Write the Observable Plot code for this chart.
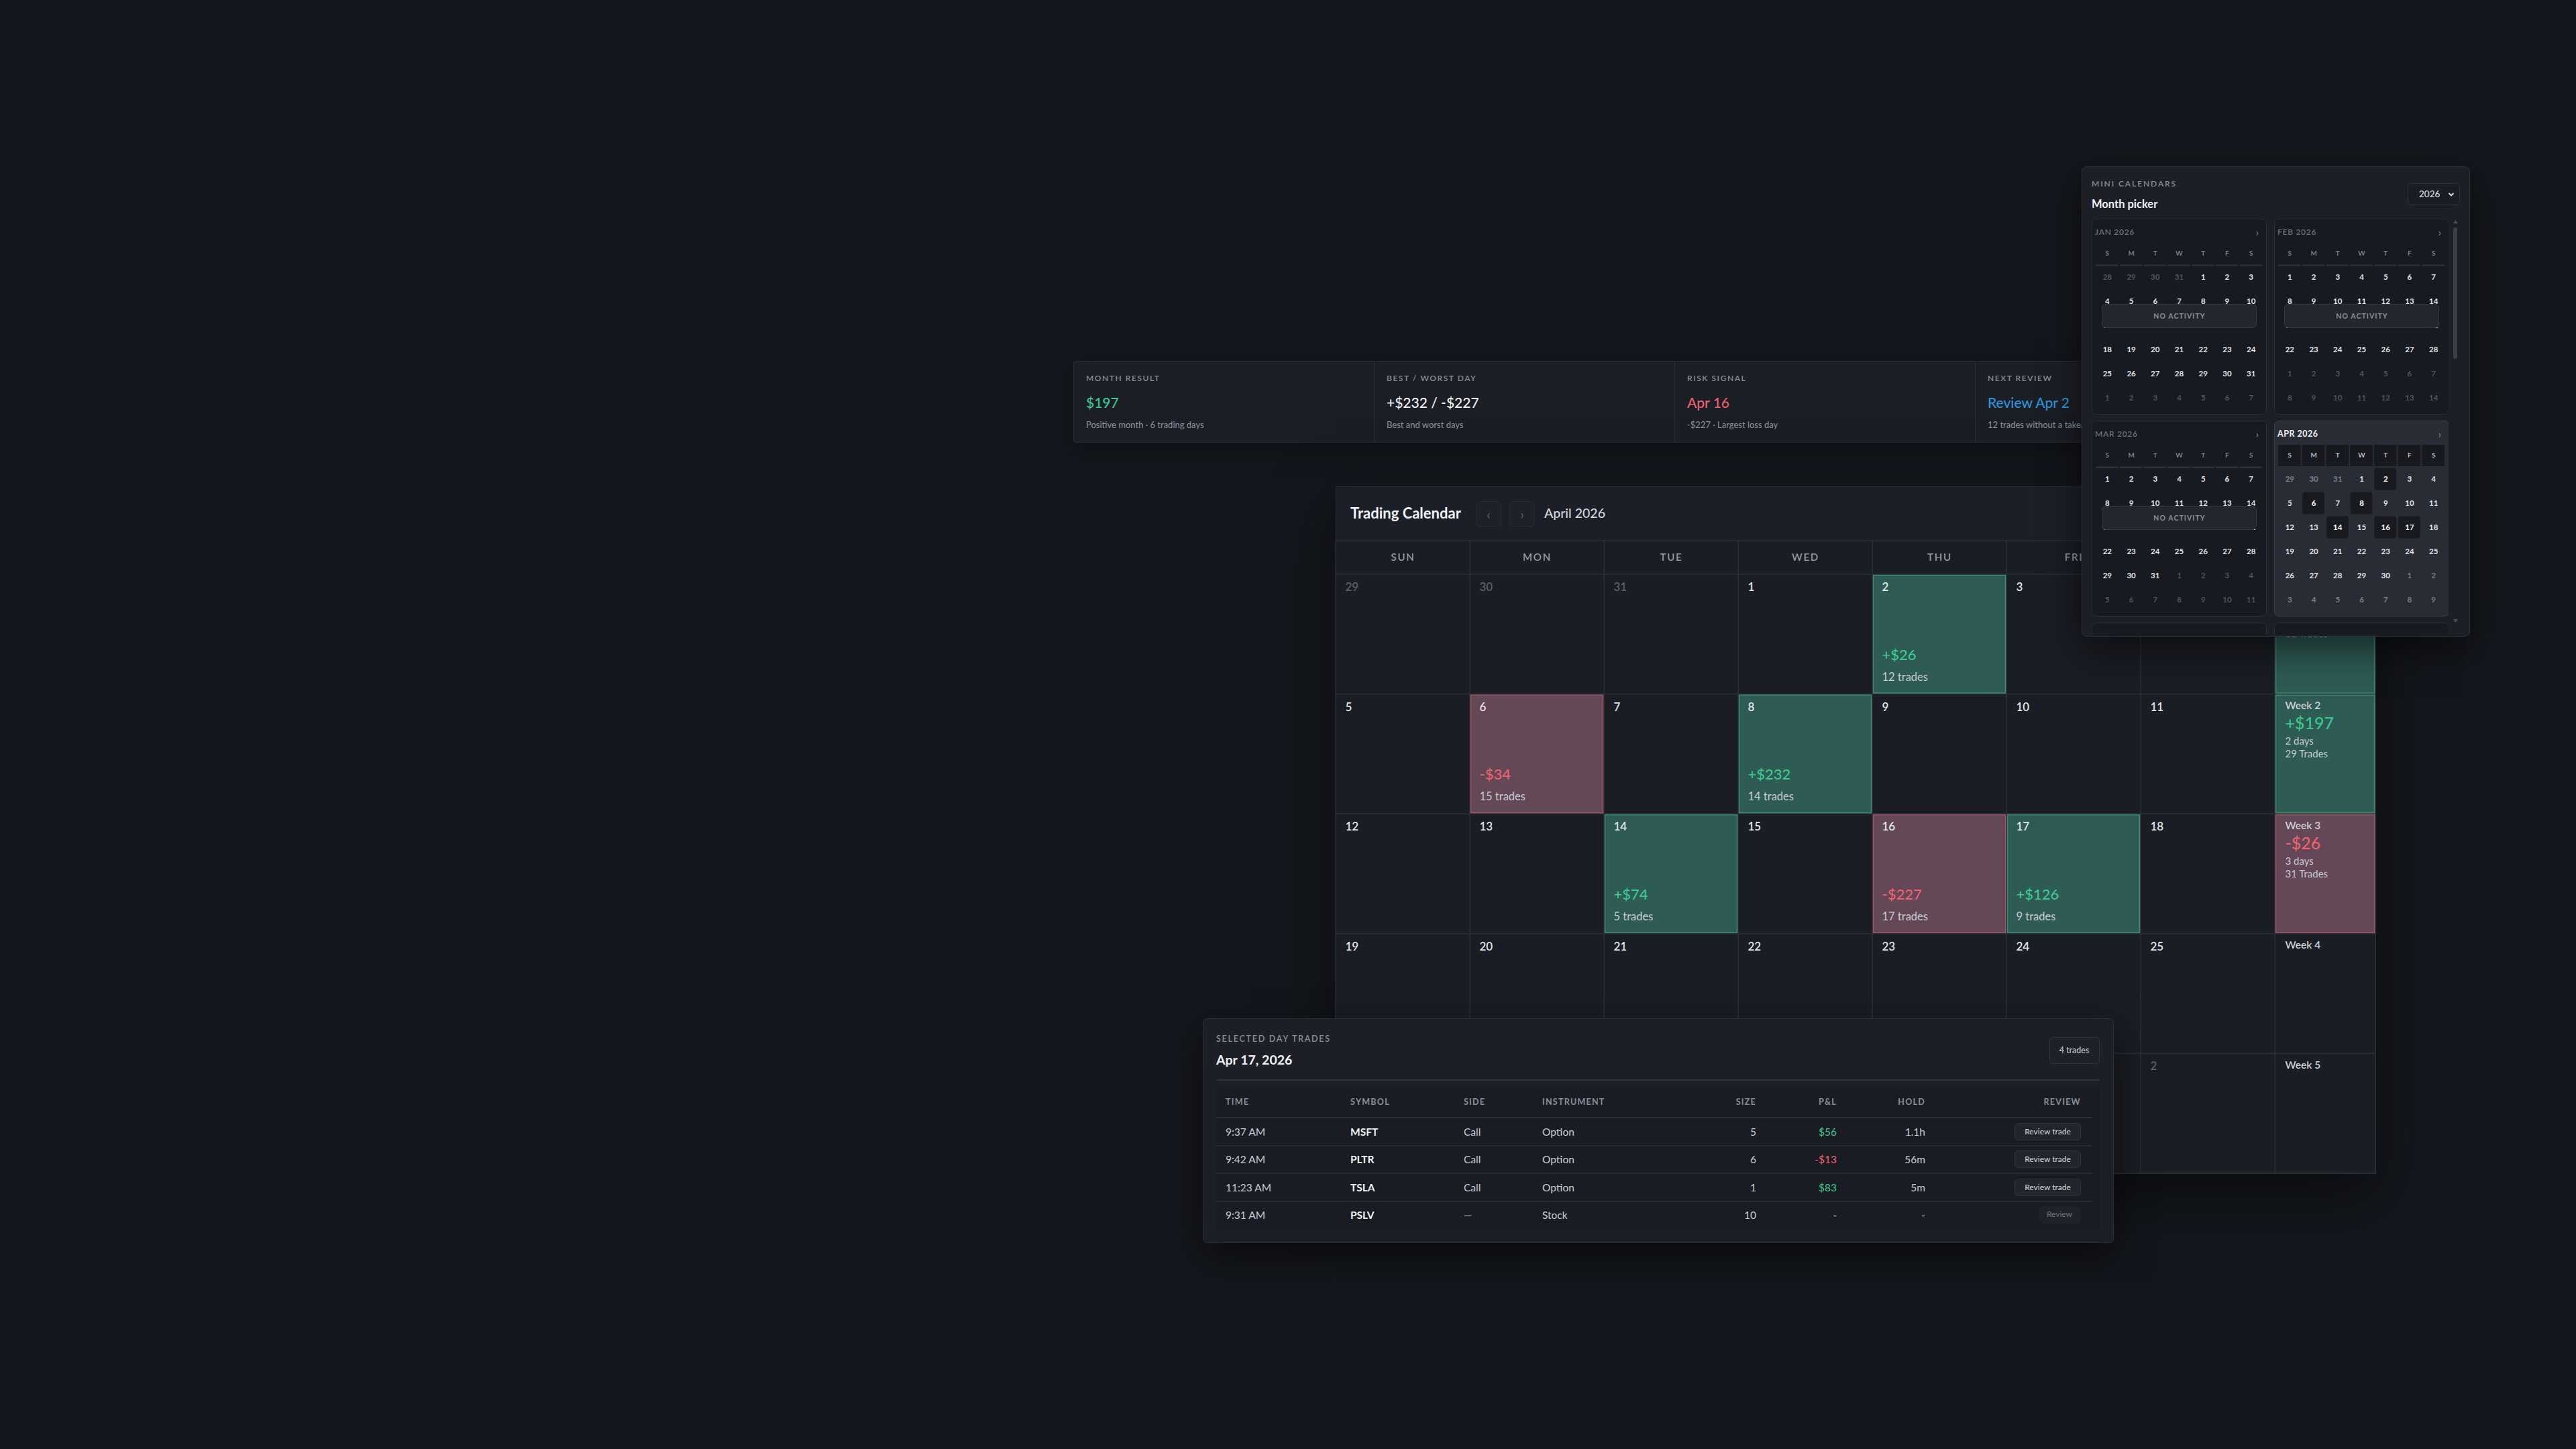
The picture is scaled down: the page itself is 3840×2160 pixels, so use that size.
<!DOCTYPE html>
<html>
<head>
<meta charset="utf-8">
<script src="https://cdn.jsdelivr.net/npm/d3@7"></script>
<script src="https://cdn.jsdelivr.net/npm/@observablehq/plot@0.6"></script>
<style>
html,body{margin:0;padding:0;background:#14171d;}
body{width:3840px;height:2160px;position:relative;overflow:hidden;font-family:Lato,"Noto Sans",sans-serif;color:#e6e8ec;}
svg{display:block;}
</style>
</head>
<body>
<script>
// ---------------- DATA ----------------
const calYear = 2026, calMonth = 3;
const calTitle = "Trading Calendar";
const monthTitle = "April 2026";
const weekdayNames = ["SUN","MON","TUE","WED","THU","FRI","SAT"];
const weekHeader = "WEEK";
const tradeDays = [2, 6, 8, 14, 16, 17];
const tradePnl = [26, -34, 232, 74, -227, 126];
const tradeCounts = [12, 15, 14, 5, 17, 9];
const weekLabels = ["Week 1","Week 2","Week 3","Week 4","Week 5"];
const weekPnl = [26, 197, -26, null, null];
const weekDayCounts = [1, 2, 3, null, null];
const weekTradeCounts = [12, 29, 31, null, null];

const statLabels = ["MONTH RESULT","BEST / WORST DAY","RISK SIGNAL","NEXT REVIEW"];
const statValues = ["$197","+$232 / -$227","Apr 16","Review Apr 2"];
const statSubs = ["Positive month · 6 trading days","Best and worst days","-$227 · Largest loss day","12 trades without a takeaway"];
const statTones = ["pos","neutral","neg","link"];

const miniKicker = "MINI CALENDARS";
const miniTitle = "Month picker";
const yearOption = "2026";
const miniMonthLabels = ["JAN 2026","FEB 2026","MAR 2026","APR 2026"];
const miniMonthIndex = [0, 1, 2, 3];
const miniHiddenCards = 2; // further months below the scroll fold (only their top edge shows)
const miniLetters = ["S","M","T","W","T","F","S"];
const noActivityLabel = "NO ACTIVITY";

const selKicker = "SELECTED DAY TRADES";
const selDate = "Apr 17, 2026";
const selBadge = "4 trades";
const tableHeaders = ["TIME","SYMBOL","SIDE","INSTRUMENT","SIZE","P&L","HOLD","REVIEW"];
const tradeTimes = ["9:37 AM","9:42 AM","11:23 AM","9:31 AM"];
const tradeSymbols = ["MSFT","PLTR","TSLA","PSLV"];
const tradeSides = ["Call","Call","Call","—"];
const tradeInstruments = ["Option","Option","Option","Stock"];
const tradeSizes = [5, 6, 1, 10];
const tradePnls = [56, -13, 83, null];
const tradeHolds = ["1.1h","56m","5m","-"];
const reviewLabels = ["Review trade","Review trade","Review trade","Review"];

// ---------------- STYLE ----------------
const C = {
  pos: "#3cc98f", neg: "#f0606f", link: "#2b95dc", neutral: "#f1f3f6",
  cell: "#1a1d24", grid: "#2b2f37",
  greenFill: "#2f5b55", greenStroke: "#3d8c70",
  redFill: "#644857", redStroke: "#9b5566",
  dim: "#5c616b", text: "#e4e7eb", sub: "#c6cad1", muted: "#8a909b"
};
const FONT = "Lato, 'Noto Sans', sans-serif";

function box(parent, css, text) {
  const d = document.createElement("div");
  d.style.cssText = "position:absolute;box-sizing:border-box;" + css;
  if (text != null) d.textContent = text;
  parent.appendChild(d);
  return d;
}
function txt(parent, x, cy, text, css, align) {
  let pos;
  if (align === "right") pos = `left:${x - 400}px;width:400px;text-align:right;`;
  else if (align === "center") pos = `left:${x - 200}px;width:400px;text-align:center;`;
  else pos = `left:${x}px;`;
  return box(parent, pos + `top:${cy - 20}px;height:40px;line-height:40px;white-space:nowrap;` + css, text);
}
const money = v => (v > 0 ? "+" : "-") + "$" + Math.abs(v);

const root = document.body;

// ---------------- STATS STRIP ----------------
const strip = box(root, "left:1600px;top:538px;width:1792px;height:122px;background:#1b1e25;border:1px solid #2a2e36;border-radius:4px;z-index:1;box-shadow:0 10px 40px rgba(0,0,0,0.35);");
statLabels.forEach((lab, i) => {
  const col = box(strip, `left:${i * 448}px;top:0;width:448px;height:120px;${i < 3 ? "border-right:1px solid #2a2e36;" : ""}`);
  txt(col, 18, 25, lab, "font-size:12px;letter-spacing:0.13em;color:#8a909b;font-weight:600;");
  txt(col, 18, 61, statValues[i], `font-size:21px;color:${C[statTones[i]]};font-weight:500;`);
  txt(col, 18, 94, statSubs[i], "font-size:13px;color:#8f95a0;");
});

// ---------------- MAIN CALENDAR ----------------
const cal = box(root, "left:1991px;top:725px;width:1551px;height:1025px;background:#1a1d24;border:1px solid #2a2e36;z-index:1;box-shadow:0 30px 90px rgba(0,0,0,0.5);");
const hdr = box(cal, "left:0;top:0;width:1549px;height:81px;background:#1c1f27;");
txt(hdr, 21, 39, calTitle, "font-size:22px;font-weight:700;color:#f1f3f6;");
["‹", "›"].forEach((ch, i) => {
  const b = box(hdr, `left:${208 + i * 50}px;top:21px;width:38px;height:38px;border:1px solid #262a32;background:#1e2129;border-radius:6px;`);
  txt(b, 18, 18, ch, "font-size:20px;color:#5d636e;", "center");
});
txt(hdr, 310, 39, monthTitle, "font-size:19.5px;color:#d5d9df;font-weight:500;");

const calCells = [];
{
  const off = new Date(calYear, calMonth, 1).getDay();
  for (let i = 0; i < 35; i++) {
    const d = new Date(calYear, calMonth, 1 - off + i);
    const inMonth = d.getMonth() === calMonth;
    const k = inMonth ? tradeDays.indexOf(d.getDate()) : -1;
    calCells.push({col: i % 7, row: Math.floor(i / 7), day: d.getDate(), inMonth,
      pnl: k >= 0 ? tradePnl[k] : null, trades: k >= 0 ? tradeCounts[k] : null});
  }
}
const weekCells = weekLabels.map((w, i) => ({col: 7, row: i, label: w, pnl: weekPnl[i], days: weekDayCounts[i], trades: weekTradeCounts[i]}));
const headCells = weekdayNames.map((n, i) => ({col: i, w: 1, label: n})).concat([{col: 7, w: 0.75, label: weekHeader}]);
const traded = calCells.filter(d => d.pnl != null);
const tradedWeeks = weekCells.filter(d => d.pnl != null);
const fillOf = d => d.pnl > 0 ? C.greenFill : C.redFill;
const strokeOf = d => d.pnl > 0 ? C.greenStroke : C.redStroke;
const toneOf = d => d.pnl > 0 ? C.pos : C.neg;

const calPlot = Plot.plot({
  width: 1550, height: 943, margin: 0,
  x: {type: "linear", domain: [0, 7.75], range: [0, 1550], axis: null},
  y: {type: "linear", domain: [-0.28, 5], range: [0, 943], axis: null},
  color: {type: "identity"},
  style: {background: "transparent", fontFamily: FONT, overflow: "visible"},
  marks: [
    Plot.rect(headCells, {x1: "col", x2: d => d.col + d.w, y1: () => -0.28, y2: () => 0, fill: C.cell, stroke: C.grid, strokeWidth: 1.5}),
    Plot.text(headCells, {x: d => d.col + d.w / 2, y: () => -0.14, text: "label", fill: "#959ba6", fontSize: 15, fontWeight: 600}),
    Plot.rect(calCells, {x1: "col", x2: d => d.col + 1, y1: "row", y2: d => d.row + 1, fill: C.cell, stroke: C.grid, strokeWidth: 1.5}),
    Plot.rect(weekCells, {x1: "col", x2: d => d.col + 0.75, y1: "row", y2: d => d.row + 1, fill: C.cell, stroke: C.grid, strokeWidth: 1.5}),
    Plot.rect(traded, {x1: "col", x2: d => d.col + 1, y1: "row", y2: d => d.row + 1, fill: fillOf, stroke: strokeOf, strokeWidth: 1.5, inset: 1.5}),
    Plot.rect(tradedWeeks, {x1: "col", x2: d => d.col + 0.75, y1: "row", y2: d => d.row + 1, fill: fillOf, stroke: strokeOf, strokeWidth: 1.5, inset: 1.5}),
    Plot.text(calCells, {x: "col", y: "row", dx: 14, dy: 19, text: d => String(d.day), textAnchor: "start",
      fill: d => d.inMonth ? C.text : C.dim, fontSize: 17, fontWeight: 600}),
    Plot.text(traded, {x: "col", y: "row", dx: 14, dy: 120, text: d => money(d.pnl), textAnchor: "start", fill: toneOf, fontSize: 22, fontWeight: 500}),
    Plot.text(traded, {x: "col", y: "row", dx: 14, dy: 153, text: d => d.trades + " trades", textAnchor: "start", fill: C.sub, fontSize: 16.5}),
    Plot.text(weekCells, {x: "col", y: "row", dx: 15, dy: 17, text: "label", textAnchor: "start", fill: "#cfd3d9", fontSize: 15.5, fontWeight: 600}),
    Plot.text(tradedWeeks, {x: "col", y: "row", dx: 15, dy: 44, text: d => money(d.pnl), textAnchor: "start", fill: toneOf, fontSize: 25, fontWeight: 500}),
    Plot.text(tradedWeeks, {x: "col", y: "row", dx: 15, dy: 70, text: d => d.days + (d.days === 1 ? " day" : " days"), textAnchor: "start", fill: C.sub, fontSize: 15}),
    Plot.text(tradedWeeks, {x: "col", y: "row", dx: 15, dy: 89, text: d => d.trades + " Trades", textAnchor: "start", fill: C.sub, fontSize: 15})
  ]
});
d3.select(calPlot).selectAll("text").filter(function () {
  return weekdayNames.includes(this.textContent) || this.textContent === weekHeader;
}).attr("letter-spacing", "0.12em");
const calHost = box(cal, "left:-1px;top:80px;width:1550px;height:943px;");
calHost.appendChild(calPlot);

// ---------------- SELECTED DAY TRADES ----------------
const sel = box(root, "left:1793px;top:1518px;width:1358px;height:335px;background:#1c1f26;border:1px solid #2b2f38;border-radius:6px;z-index:2;box-shadow:0 20px 60px rgba(0,0,0,0.55);");
txt(sel, 19, 30, selKicker, "font-size:12.5px;letter-spacing:0.14em;color:#8a909b;font-weight:600;");
txt(sel, 19, 61, selDate, "font-size:19.5px;color:#f2f4f7;font-weight:700;");
const badge = box(sel, "left:1261px;top:27px;width:75px;height:40px;border:1px solid #30343d;border-radius:5px;background:#1e2128;");
txt(badge, 36, 19, selBadge, "font-size:12.5px;color:#d0d4da;", "center");
box(sel, "left:19px;top:90px;width:1317px;height:2px;background:#2c3038;");
const tbl = box(sel, "left:19px;top:103px;width:1317px;height:211px;background:#191c22;border-radius:6px;");
const colDefs = [
  {x: 14, align: "left"}, {x: 200, align: "left"}, {x: 369, align: "left"}, {x: 486, align: "left"},
  {x: 805, align: "right"}, {x: 925, align: "right"}, {x: 1057, align: "right"}, {x: 1289, align: "right"}
];
tableHeaders.forEach((h, i) => txt(tbl, colDefs[i].x, 21, h, "font-size:12.5px;letter-spacing:0.1em;color:#8a909b;font-weight:700;", colDefs[i].align));
box(tbl, "left:0;top:43px;width:1306px;height:2px;background:#2a2e36;");
const rowY = [65, 106, 148, 189];
tradeTimes.forEach((t, r) => {
  const cy = rowY[r];
  if (r < tradeTimes.length - 1) box(tbl, `left:0;top:${cy + 20}px;width:1306px;height:2px;background:#262a31;`);
  const base = "font-size:15.5px;color:#c9cdd3;";
  txt(tbl, colDefs[0].x, cy, t, base);
  txt(tbl, colDefs[1].x, cy, tradeSymbols[r], "font-size:15.5px;color:#f2f4f7;font-weight:700;");
  txt(tbl, colDefs[2].x, cy, tradeSides[r], base);
  txt(tbl, colDefs[3].x, cy, tradeInstruments[r], base);
  txt(tbl, colDefs[4].x, cy, String(tradeSizes[r]), base, "right");
  const p = tradePnls[r];
  txt(tbl, colDefs[5].x, cy, p == null ? "-" : (p < 0 ? "-$" : "$") + Math.abs(p),
    `font-size:15.5px;color:${p == null ? "#c9cdd3" : p > 0 ? C.pos : C.neg};`, "right");
  txt(tbl, colDefs[6].x, cy, tradeHolds[r], base, "right");
  const full = reviewLabels[r].length > 6;
  const bw = full ? 99 : 62;
  const b = box(tbl, `left:${colDefs[7].x - bw}px;top:${cy - 13}px;width:${bw}px;height:26px;border-radius:6px;` +
    (full ? "border:1px solid #30343d;background:#22252c;" : "background:#1f2228;"));
  txt(b, bw / 2 - 1, 12, reviewLabels[r], `font-size:12px;color:${full ? "#d6d9de" : "#6f757f"};`, "center");
});

// ---------------- MINI CALENDARS ----------------
const mini = box(root, "left:3103px;top:248px;width:579px;height:701px;background:#1c1f26;border:1px solid #2d313a;border-radius:8px;z-index:3;box-shadow:0 20px 60px rgba(0,0,0,0.55);");
txt(mini, 14, 25, miniKicker, "font-size:12px;letter-spacing:0.16em;color:#8a909b;font-weight:600;");
txt(mini, 14, 55, miniTitle, "font-size:16.5px;color:#f2f4f7;font-weight:700;");
const sel2 = box(mini, "left:485px;top:24px;width:78px;height:33px;border:1px solid #2d313a;border-radius:6px;background:#1a1d23;");
txt(sel2, 16, 15, yearOption, "font-size:13.5px;color:#e6e8ec;");
sel2.insertAdjacentHTML("beforeend", '<svg style="position:absolute;left:59px;top:12px" width="10" height="8" viewBox="0 0 10 8"><path d="M1.5 2 L5 5.5 L8.5 2" stroke="#e6e8ec" stroke-width="1.8" fill="none"/></svg>');
box(mini, "left:553px;top:90px;width:6px;height:196px;border-radius:3px;background:#3a3e47;");
mini.insertAdjacentHTML("beforeend", '<svg style="position:absolute;left:553px;top:79px" width="7" height="5"><path d="M0 5 L3.5 0 L7 5Z" fill="#4a4f58"/></svg>');
mini.insertAdjacentHTML("beforeend", '<svg style="position:absolute;left:553px;top:674px" width="7" height="5"><path d="M0 0 L3.5 5 L7 0Z" fill="#4a4f58"/></svg>');

const scroller = box(mini, "left:14px;top:77px;width:532px;height:620px;overflow:hidden;");

function miniPlot(year, month, active, selected) {
  const cells = [];
  const off = new Date(year, month, 1).getDay();
  for (let i = 0; i < 42; i++) {
    const d = new Date(year, month, 1 - off + i);
    const inMonth = d.getMonth() === month;
    cells.push({col: i % 7, row: Math.floor(i / 7), day: d.getDate(), inMonth, active: inMonth && active.includes(d.getDate())});
  }
  const wd = miniLetters.map((l, i) => ({i, l}));
  const marks = [];
  if (selected) {
    marks.push(Plot.rect(wd, {x1: "i", x2: d => d.i + 1, y1: () => -1, y2: () => 0, fill: "#17191f", insetLeft: 1, insetRight: 1, insetTop: 3, insetBottom: 1}));
  } else {
    marks.push(Plot.ruleY(wd, {y: () => 0, x1: d => d.i + 0.03, x2: d => d.i + 0.97, stroke: "#30343d", strokeWidth: 2}));
  }
  marks.push(Plot.rect(cells.filter(d => d.active), {x1: "col", x2: d => d.col + 1, y1: "row", y2: d => d.row + 1, fill: "#181a20", inset: 1.5, rx: 4}));
  marks.push(Plot.text(wd, {x: d => d.i + 0.5, y: () => -0.5, text: "l", fill: selected ? "#c6cad1" : "#858b96", fontSize: 10, fontWeight: 600}));
  marks.push(Plot.text(cells, {x: d => d.col + 0.5, y: d => d.row + 0.5, text: d => String(d.day),
    fill: d => d.active ? "#ffffff" : d.inMonth ? "#e3e6ea" : (selected ? "#7b818b" : "#50555f"),
    fontSize: 11.5, fontWeight: 700}));
  return Plot.plot({
    width: 250, height: 252, margin: 0,
    x: {type: "linear", domain: [0, 7], range: [0, 250], axis: null},
    y: {type: "linear", domain: [-1, 6], range: [0, 252], axis: null},
    color: {type: "identity"},
    style: {background: "transparent", fontFamily: FONT},
    marks
  });
}

miniMonthLabels.forEach((lab, k) => {
  const m = miniMonthIndex[k];
  const selected = m === calMonth;
  const active = selected ? tradeDays : [];
  const left = (k % 2) * 272, top = Math.floor(k / 2) * 301;
  const card = box(scroller, `left:${left}px;top:${top}px;width:261px;height:292px;border-radius:7px;` +
    (selected ? "background:#282c35;border:1px solid #3a3f49;" : "background:#171a20;border:1px solid #2c3038;"));
  txt(card, 4, 19, lab, selected ? "font-size:12.5px;letter-spacing:0.04em;color:#f0f2f5;font-weight:700;" : "font-size:12px;letter-spacing:0.06em;color:#6c727d;font-weight:600;");
  txt(card, 248, 19, "›", "font-size:15px;color:#8a909b;", "right");
  const host = box(card, "left:4px;top:32px;width:250px;height:252px;");
  host.appendChild(miniPlot(calYear, m, active, selected));
  if (!active.length) {
    const ov = box(card, "left:14px;top:126px;width:231px;height:36px;background:#22262d;border:1px solid #343842;border-radius:6px;");
    txt(ov, 115, 17, noActivityLabel, "font-size:10.5px;letter-spacing:0.1em;color:#8a909b;font-weight:700;", "center");
  }
});
for (let k = 0; k < miniHiddenCards; k++) {
  box(scroller, `left:${k * 272}px;top:602px;width:261px;height:292px;border-radius:7px;background:#171a20;border:1px solid #2c3038;`);
}
</script>
</body>
</html>
